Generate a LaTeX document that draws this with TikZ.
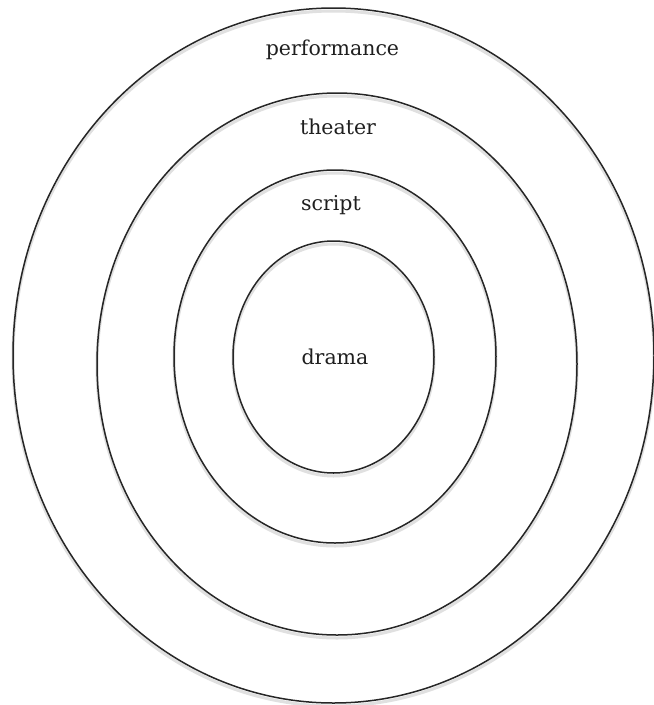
\documentclass[tikz,border=0pt]{standalone}
\usepackage{fontspec}
\setmainfont{DejaVu Serif}
\begin{document}
\begin{tikzpicture}[x=1pt,y=-1pt,
  ring/.style={draw=black!85,line width=1.5pt},
  ringshadow/.style={draw=black!12,line width=3pt},
  lbl/.style={font=\fontsize{20.5}{24}\selectfont,text=black!88}]
\useasboundingbox (0,0) rectangle (654,705);
\fill[white] (0,0) rectangle (654,705);
% soft shadows
\draw[ringshadow] (333.5,358.5) ellipse [x radius=320.5, y radius=347.5];
\draw[ringshadow] (337,367) ellipse [x radius=240, y radius=271];
\draw[ringshadow] (335,359.5) ellipse [x radius=161, y radius=186.5];
\draw[ringshadow] (333.5,360) ellipse [x radius=100.5, y radius=116];
% rings
\draw[ring] (333.5,355.5) ellipse [x radius=320.5, y radius=347.5];
\draw[ring] (337,364) ellipse [x radius=240, y radius=271];
\draw[ring] (335,356.5) ellipse [x radius=161, y radius=186.5];
\draw[ring] (333.5,357) ellipse [x radius=100.5, y radius=116];
% labels
\node[lbl] (performance) at (332.5,50) {performance};
\node[lbl] (theater) at (338,127) {theater};
\node[lbl] (script) at (331,205) {script};
\node[lbl] (drama) at (335,357) {drama};
\end{tikzpicture}
\end{document}
